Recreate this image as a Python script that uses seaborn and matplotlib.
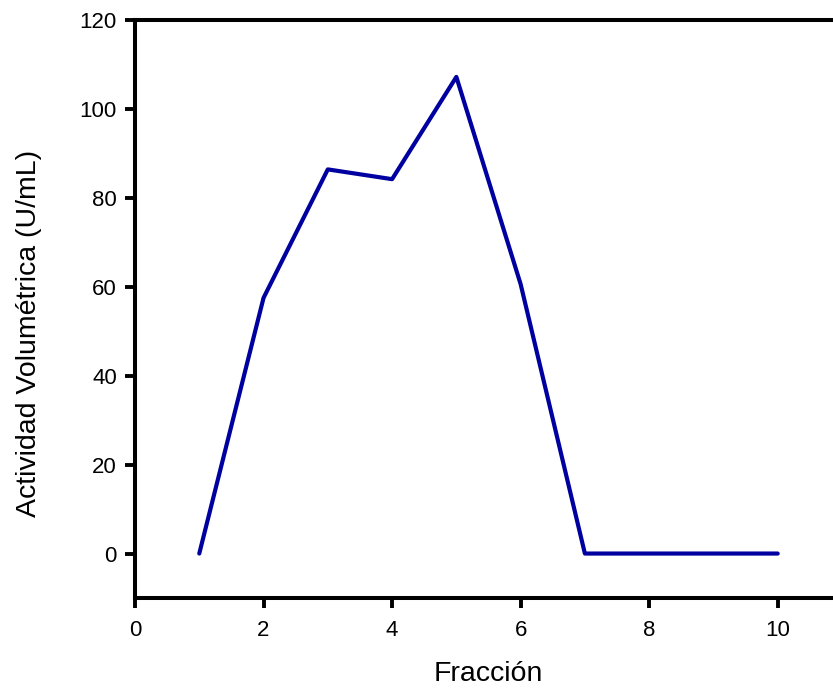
import matplotlib
matplotlib.use("Agg")
import matplotlib.pyplot as plt
import seaborn as sns
import pandas as pd

fraccion = [1, 2, 3, 4, 5, 6, 7, 8, 9, 10]
actividad = [0, 57.5, 86.4, 84.2, 107.2, 60.6, 0, 0, 0, 0]
x_ticks = [0, 2, 4, 6, 8, 10]
y_ticks = [0, 20, 40, 60, 80, 100, 120]

sns.set_style("white")
plt.rcParams['font.family'] = ['Liberation Sans', 'DejaVu Sans']

df = pd.DataFrame({"Fracción": fraccion, "Actividad": actividad})

fig = plt.figure(figsize=(8.33, 6.9), dpi=100)
W, H = 833, 690
left_px, right_px = 135, 135 + 11 * 64.27
top_px, bot_px = 20, 598
ax = fig.add_axes([left_px / W, 1 - bot_px / H, (right_px - left_px) / W, (bot_px - top_px) / H])

sns.lineplot(data=df, x="Fracción", y="Actividad", ax=ax, color="#0000A0", linewidth=3.0)

ax.set_xlim(0, 11)
ax.set_ylim(-10, 120)
ax.set_xticks(x_ticks)
ax.set_yticks(y_ticks)
ax.set_xlabel("Fracción", fontsize=20.5, labelpad=14, color='black')
ax.set_ylabel("Actividad Volumétrica (U/mL)", fontsize=20.5, labelpad=27, color='black')
ax.yaxis.label.set_y(0.4576)
ax.tick_params(axis='both', which='major', direction='out', length=7, width=2.8,
               labelsize=16, color='black', labelcolor='black', bottom=True, left=True)
ax.tick_params(axis='x', pad=9)
ax.tick_params(axis='y', pad=6)
for s in ['left', 'bottom', 'top']:
    ax.spines[s].set_linewidth(2.9)
    ax.spines[s].set_color('black')
ax.spines['right'].set_visible(False)

fig.savefig("out.png", dpi=100)
